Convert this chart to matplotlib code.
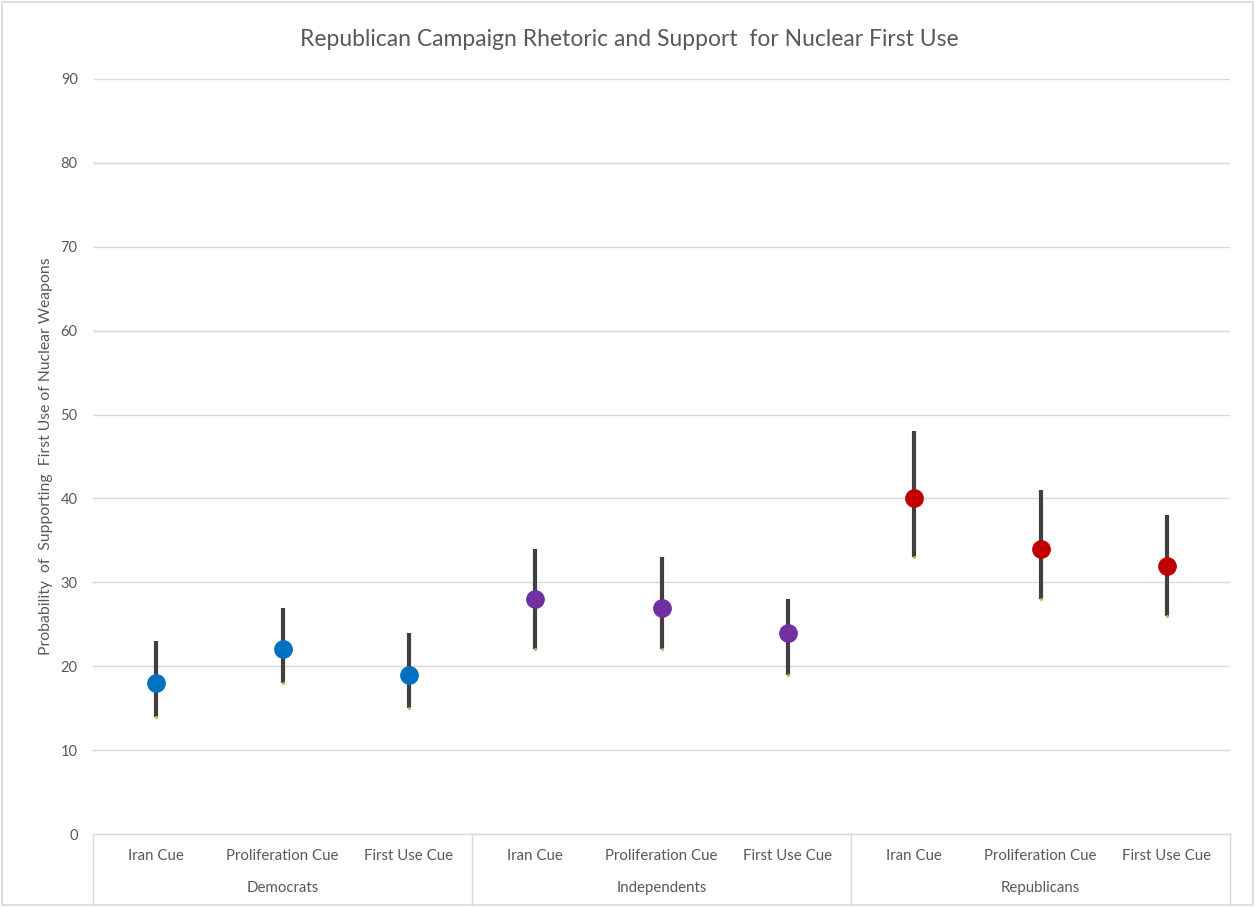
import matplotlib
matplotlib.use("Agg")
import matplotlib.pyplot as plt
from matplotlib.patches import Rectangle
import matplotlib.transforms as mtransforms

plt.rcParams['font.family'] = ['Lato', 'DejaVu Sans']

groups = ["Democrats", "Independents", "Republicans"]
cues = ["Iran Cue", "Proliferation Cue", "First Use Cue"]
group_colors = ["#0070C0", "#7030A0", "#C00000"]

estimates = [18, 22, 19, 28, 27, 24, 40, 34, 32]
upper = [23, 27, 24, 34, 33, 28, 48, 41, 38]
lower = [14, 18, 15, 22, 22, 19, 33, 28, 26]

y_ticks = [0, 10, 20, 30, 40, 50, 60, 70, 80, 90]

title = "Republican Campaign Rhetoric and Support  for Nuclear First Use"
ylabel = "Probability  of  Supporting  First Use of Nuclear Weapons"

W, H = 1255, 907
fig = plt.figure(figsize=(W / 100, H / 100), dpi=100)
ax = fig.add_axes([93 / W, (H - 834) / H, (1230 - 93) / W, (834 - 79) / H])

n = len(groups) * len(cues)
xs = list(range(n))
colors = [group_colors[i // len(cues)] for i in range(n)]

for x, est, hi, lo, c in zip(xs, estimates, upper, lower, colors):
    ax.plot([x, x], [lo, hi], color="#404040", lw=3.0, solid_capstyle="butt", zorder=3)
    ax.plot([x], [lo], marker="o", ms=2.2, color="#92D050", mec="none", zorder=4)
    ax.plot([x], [est], marker="o", ms=13.5, color=c, mec="none", zorder=5)

ax.set_xlim(-0.5, n - 0.5)
ax.set_ylim(0, 90)
ax.set_yticks(y_ticks)
ax.set_yticklabels([str(t) for t in y_ticks], color="#595959", fontsize=10.5)
ax.tick_params(axis="y", length=0, pad=11)
ax.set_xticks([])
ax.grid(axis="y", color="#D9D9D9", lw=1)
ax.set_axisbelow(True)
for s in ["top", "right", "left"]:
    ax.spines[s].set_visible(False)
ax.spines["bottom"].set_color("#D9D9D9")
ax.spines["bottom"].set_linewidth(1)

trans = mtransforms.blended_transform_factory(ax.transData, ax.transAxes)
ax_h = 834 - 79
y_lvl1 = -(856 - 834) / ax_h
y_lvl2 = -(888 - 834) / ax_h
y_bot = -(905 - 834) / ax_h

for i, x in enumerate(xs):
    ax.text(x, y_lvl1, cues[i % len(cues)], transform=trans, ha="center", va="center",
            fontsize=10.8, color="#595959")
for g, name in enumerate(groups):
    center = g * len(cues) + (len(cues) - 1) / 2
    ax.text(center, y_lvl2, name, transform=trans, ha="center", va="center",
            fontsize=10.8, color="#595959")
for b in range(len(groups) + 1):
    xb = b * len(cues) - 0.5
    ax.plot([xb, xb], [0, y_bot], transform=trans, color="#D9D9D9", lw=1, clip_on=False)

fig.text(629 / W, 1 - 39 / H, title, ha="center", va="center",
         fontsize=16.5, color="#595959")
fig.text(46 / W, 1 - 456 / H, ylabel, rotation=90, ha="center", va="center",
         fontsize=11.3, color="#595959")

fig.patches.append(Rectangle((2 / W, 2 / H), 1 - 4 / W, 1 - 4 / H, transform=fig.transFigure,
                             fill=False, edgecolor="#D9D9D9", lw=1.2))

fig.savefig("out.png", dpi=100)
